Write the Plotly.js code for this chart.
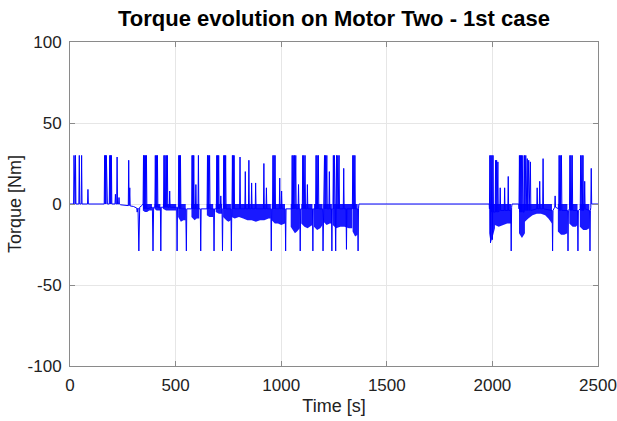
<!DOCTYPE html>
<html>
<head>
<meta charset="utf-8">
<script src="https://cdn.plot.ly/plotly-3.0.1.min.js"></script>
<style>html,body{margin:0;padding:0;background:#fff;}#chart{width:617px;height:421px;}</style>
</head>
<body>
<div id="chart"></div>
<script>
// ---- Data ----
const titleText = 'Torque evolution on Motor Two - 1st case';
const xTitle = 'Time [s]';
const yTitle = 'Torque [Nm]';
const xTicks = [0, 500, 1000, 1500, 2000, 2500];
const yTicks = [-100, -50, 0, 50, 100];

// Torque signal (time in s, torque in Nm): baseline, spikes
const sigT = [
  0,17,19,21,22,24,26,28,42,44,46,53,55,57,83,85,87,
  162,164,166,168,170,172,174,175,177,186,188,190,192,194,196,198,
  213,215,217,221,223,225,230,232,234,240,270,276,278,280,283,285,300,
  316,318,322,326,330,340,
  346,348,350,352,354,357,359,362,364,
  390,393,396,402,404,406,409,411,414,416,428,430,432,
  443,445,447,450,452,456,458,461,463,470,472,474,505,507,509,
  513,515,517,519,521,523,525,548,551,553,
  576,578,580,582,584,586,588,594,596,598,606,608,610,617,619,621,
  649,651,653,655,657,661,663,680,682,684,
  693,695,697,699,701,704,706,712,714,716,720,722,724,
  726,728,730,732,734,737,739,762,764,766,
  767,769,771,773,775,777,779,803,805,807,828,830,832,845,847,849,
  858,860,862,877,879,881,916,918,920,928,930,932,951,953,955,
  959,961,963,966,968,971,973,991,993,995,1000,1002,1004,1019,1021,1023,
  1050,1052,1054,1057,1059,1063,1065,1069,1071,1080,1082,1084,1088,1090,1092,
  1100,1102,1104,1107,1109,1113,1115,1122,1124,1126,1148,1150,1152,
  1163,1165,1167,1170,1172,1176,1178,1196,1198,1200,
  1203,1205,1207,1210,1212,1216,1218,1226,1228,1230,1238,1240,1242,
  1245,1247,1249,1252,1254,1258,1260,1262,1264,1268,1270,1274,1276,
  1294,1296,1298,1307,1309,1311,1337,1339,1341,1344,1346,1349,1351,
  1362,1364,1366,1368,1985,
  1986,1988,1990,1991,1993,1995,1998,2000,2003,2005,
  2013,2015,2017,2020,2022,2026,2028,2035,2037,2039,2056,2058,2060,2073,2075,2077,
  2087,2089,2091,2093,2125,
  2126,2128,2130,2133,2135,2138,2140,2144,2146,
  2150,2152,2154,2158,2160,2165,2167,2172,2174,2180,2182,
  2210,2212,2214,2222,2224,2226,2238,2240,2242,2283,2285,2287,2295,2297,2299,
  2314,2316,2318,2321,2323,2327,2329,2356,2358,2360,
  2365,2367,2369,2372,2374,2378,2380,2403,2405,2407,
  2416,2418,2420,2424,2426,2429,2431,2435,2437,2439,
  2460,2462,2464,2466,2468,2470,2500
];
const sigV = [
  0,0,30,0,30,0,30,0,0,30,0,0,30,0,0,9,0,
  0,30,0,30,0,30,0,30,0,0,30,0,30,0,30,0,
  0,6,0,0,29,0,0,4,0,-0.5,-1,-1,27,-1,10,-1.2,-1.5,
  -2.5,-5,-2.5,-29,-2,-1,
  0,30,-3,30,-3,30,-3,30,-3,
  -2,-29,-2,-2,30,-2,30,-2,30,-2,-2,-29,-2,
  -2,30,-2,30,-2,30,-2,30,-2,-2,8,-2,-2,-29,-2,
  -2,30,-3,30,-3,30,-3,-3,-29,-3,
  -3,30,-3,30,-3,30,-3,-3,12,-3,-3,30,-3,-3,-29,-3,
  -3,30,-3,30,-3,30,-3,-3,-29,-3,
  -3,30,-3,30,-3,30,-3,-2,5,-2,-3,-29,-3,
  -3,30,-3,30,-3,30,-3,-3,-29,-3,
  -3,30,-3,30,-3,30,-3,-3,29,-3,-3,20,-3,-3,27,-3,
  -3,13,-3,-3,13,-3,-3,25,-3,-3,10,-3,-3,-29,-3,
  -3,30,-3,30,-3,30,-3,-3,16,-3,-3,8,-3,-3,-29,-3,
  -3,30,-3,30,-3,30,-3,30,-3,-3,12,-3,-3,-29,-3,
  -3,30,-3,30,-3,30,-3,-3,12,-3,-3,-29,-3,
  -3,30,-3,30,-3,30,-3,-3,-29,-3,
  -3,30,-3,30,-3,30,-3,-3,20,-3,-3,-29,-3,
  -3,30,-3,30,-3,-29,-3,30,-3,30,-3,30,-3,
  -3,22,-3,-3,-28,-3,-3,30,-3,30,-3,30,-3,
  -3,-29,-3,0,0,
  -3,30,-5,-24,30,-5,30,-22,30,-5,
  -5,27,-5,27,-5,26,-5,-4,10,-4,-4,10,-4,-4,17,-4,
  -4,-29,-2,0,0,
  -3,30,-5,30,-5,30,-5,30,-5,
  -5,30,-4,30,-4,28,-4,27,-4,26,-4,
  -3,10,-3,-3,14,-3,-3,28,-3,-4,-29,-4,-2,5,-2,
  -3,30,-4,30,-4,30,-4,-4,-29,-4,
  -3,30,-4,30,-4,30,-4,-4,-29,-4,
  -3,30,-4,30,-4,30,-4,-3,14,-3,
  -4,-29,-4,-2,22,0,0
];

// Dense oscillation bands: lower envelope (segments separated by null)
const bandT = [
  345,355,365,375,388,null,
  400,410,428,null,
  440,455,470,485,503,null,
  512,525,537,548,null,
  575,590,600,612,null,
  648,660,670,678,null,
  690,705,720,null,
  725,740,750,762,null,
  765,780,800,820,840,860,880,900,920,940,951,null,
  955,970,985,1000,1018,null,
  1045,1055,1065,1075,1088,null,
  1095,1110,1125,1135,1148,null,
  1155,1170,1185,1196,null,
  1200,1215,1230,1240,null,
  1244,1260,1280,1300,1320,1336,null,
  1338,1350,1362,null,
  1985,1992,2000,2012,null,
  2012,2030,2050,2070,2088,null,
  2126,2140,2154,null,
  2154,2170,2190,2210,2230,2250,2265,2282,null,
  2310,2325,2340,2355,null,
  2364,2380,2395,2403,null,
  2414,2430,2445,2459
];
const bandLo = [
  -4,-5,-5,-4,-4,null,
  -3,-4,-4,null,
  -3,-4,-4,-4,-4,null,
  -8,-11,-10,-10,null,
  -8,-10,-9,-9,null,
  -7,-8,-8,-8,null,
  -5,-6,-6,null,
  -8,-10,-11,-10,null,
  -8,-9,-8,-9,-10,-10,-11,-10,-10,-9,-9,null,
  -10,-12,-12,-13,-12,null,
  -14,-16,-18,-17,-15,null,
  -12,-14,-15,-14,-13,null,
  -14,-16,-15,-13,null,
  -11,-13,-12,-12,null,
  -13,-15,-14,-14,-15,-15,null,
  -17,-20,-19,null,
  -18,-24,-21,-15,null,
  -13,-14,-13,-12,-12,null,
  -18,-21,-18,null,
  -11,-9,-7,-6,-6,-7,-9,-12,null,
  -17,-19,-19,-18,null,
  -12,-14,-14,-13,null,
  -14,-16,-16,-15
];

// ---- Build band polygons (each segment closed back along zero) ----
const polyX = [], polyY = [];
let segT = [], segV = [];
function flush() {
  if (!segT.length) return;
  polyX.push(segT[0]); polyY.push(0);
  for (let i = 0; i < segT.length; i++) { polyX.push(segT[i]); polyY.push(segV[i]); }
  polyX.push(segT[segT.length - 1]); polyY.push(0);
  polyX.push(null); polyY.push(null);
  segT = []; segV = [];
}
for (let i = 0; i < bandT.length; i++) {
  if (bandT[i] === null) { flush(); continue; }
  segT.push(bandT[i]); segV.push(bandLo[i]);
}
flush();

const font = 'Liberation Sans, Arial, Helvetica, sans-serif';
const traces = [
  { x: polyX, y: polyY, type: 'scatter', mode: 'lines', fill: 'toself',
    fillcolor: 'rgba(0,0,255,0.9)', line: { width: 0, color: 'rgba(0,0,255,0)' },
    hoverinfo: 'skip', showlegend: false, connectgaps: false },
  { x: sigT, y: sigV, type: 'scatter', mode: 'lines',
    line: { color: 'rgb(0,0,255)', width: 1 }, showlegend: false }
];

const axisCommon = {
  ticks: 'inside', ticklen: 5, tickwidth: 1, tickcolor: '#8a8a8a',
  showline: true, linecolor: '#8a8a8a', linewidth: 1, mirror: 'ticks',
  showgrid: true, gridcolor: '#e6e6e6', gridwidth: 1, zeroline: false,
  tickfont: { family: font, size: 17, color: '#222' }
};

const layout = {
  width: 617, height: 421,
  margin: { l: 70, r: 19, t: 42, b: 55 },
  paper_bgcolor: '#fff', plot_bgcolor: '#fff',
  showlegend: false,
  title: { text: '<b>' + titleText + '</b>', font: { family: font, size: 22, color: '#000' },
           x: 0.5, xref: 'paper', xanchor: 'center', y: 1 - 18 / 421, yref: 'container', yanchor: 'middle' },
  xaxis: Object.assign({}, axisCommon, {
    range: [0, 2500], tickmode: 'array', tickvals: xTicks, ticktext: xTicks.map(String),
    ticklabelstandoff: 4,
    title: { text: xTitle, font: { family: font, size: 18, color: '#222' }, standoff: 4 }
  }),
  yaxis: Object.assign({}, axisCommon, {
    range: [-100, 100], tickmode: 'array', tickvals: yTicks, ticktext: yTicks.map(String),
    ticklabelstandoff: 4,
    title: { text: yTitle, font: { family: font, size: 18, color: '#222' }, standoff: 1 }
  })
};

Plotly.newPlot('chart', traces, layout, { displayModeBar: false, staticPlot: true });
</script>
</body>
</html>
